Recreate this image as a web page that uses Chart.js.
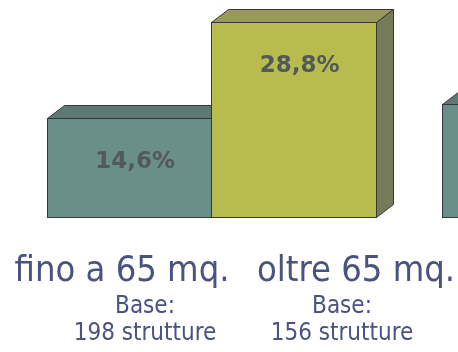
<!DOCTYPE html>
<html>
<head>
<meta charset="utf-8">
<script src="https://cdn.jsdelivr.net/npm/chart.js@4"></script>
<style>
  html, body { margin: 0; padding: 0; background: #fff; overflow: hidden; }
  #wrap { position: relative; width: 458px; height: 352px; overflow: hidden; }
  #chart { position: absolute; left: 0; top: 0; }
</style>
</head>
<body>
<div id="wrap">
  <canvas id="chart" width="820" height="352"></canvas>
</div>
<script>
// dati
const gruppi = ["gruppo 1", "gruppo 2"];
const serie = ["fino a 65 mq.", "oltre 65 mq."];
const basi = ["198 strutture", "156 strutture"];
const finoA65 = [14.6, 16.6];
const oltre65 = [28.8, null];

// colori: fronte, tetto, fianco
const coloriFronte = ["#6a8e8a", "#b8bb4d"];
const coloriTetto = ["#5e7874", "#979a5b"];
const coloriFianco = ["#56706c", "#777a58"];

const DX = 17, DY = 13;

function fmt(v) {
  return v.toFixed(1).replace(".", ",") + "%";
}

// barre 3D disegnate a mano dalle posizioni degli elementi
const barre3d = {
  id: "barre3d",
  beforeDatasetsDraw(chart) {
    const ctx = chart.ctx;
    ctx.save();
    ctx.lineWidth = 1;
    ctx.strokeStyle = "#363838";
    ctx.lineJoin = "miter";
    for (let i = 0; i < gruppi.length; i++) {
      chart.data.datasets.forEach((ds, j) => {
        const el = chart.getDatasetMeta(j).data[i];
        if (!el || ds.data[i] == null) return;
        const { x, y, base, width } = el.getProps(["x", "y", "base", "width"], true);
        const l = Math.round(x - width / 2) + 0.5;
        const r = Math.round(x + width / 2) + 0.5;
        const t = Math.round(y) + 0.5;
        const b = Math.round(base) + 0.5;
        // tetto
        ctx.beginPath();
        ctx.moveTo(l, t);
        ctx.lineTo(l + DX, t - DY);
        ctx.lineTo(r + DX, t - DY);
        ctx.lineTo(r, t);
        ctx.closePath();
        ctx.fillStyle = coloriTetto[j];
        ctx.fill();
        ctx.stroke();
        // fianco
        ctx.beginPath();
        ctx.moveTo(r, t);
        ctx.lineTo(r + DX, t - DY);
        ctx.lineTo(r + DX, b - DY);
        ctx.lineTo(r, b);
        ctx.closePath();
        ctx.fillStyle = coloriFianco[j];
        ctx.fill();
        ctx.stroke();
        // fronte
        ctx.fillStyle = coloriFronte[j];
        ctx.fillRect(l, t, r - l, b - t);
        ctx.strokeRect(l, t, r - l, b - t);
      });
    }
    // etichette valore
    ctx.font = "bold 23px 'DejaVu Sans'";
    ctx.fillStyle = "#53585a";
    ctx.textAlign = "center";
    ctx.textBaseline = "middle";
    for (let i = 0; i < gruppi.length; i++) {
      chart.data.datasets.forEach((ds, j) => {
        const el = chart.getDatasetMeta(j).data[i];
        if (!el || ds.data[i] == null) return;
        ctx.fillText(fmt(ds.data[i]), el.x + 6, el.y + 44);
      });
    }
    ctx.restore();
    return false;
  },
  afterDraw(chart) {
    const ctx = chart.ctx;
    const titoloX = [122, 356];
    const baseX = [145, 342];
    ctx.save();
    ctx.fillStyle = "#4a5282";
    ctx.textAlign = "center";
    ctx.textBaseline = "alphabetic";
    serie.forEach((s, j) => {
      ctx.font = "36px 'DejaVu Sans Condensed'";
      ctx.fillText(s, titoloX[j], 281);
      ctx.font = "24px 'DejaVu Sans Condensed'";
      ctx.fillText("Base:", baseX[j], 313);
      ctx.fillText(basi[j], baseX[j], 340);
    });
    ctx.restore();
  }
};

const ctx = document.getElementById("chart").getContext("2d");
const grafico = new Chart(ctx, {
  type: "bar",
  data: {
    labels: gruppi,
    datasets: [
      { label: serie[0], data: finoA65, backgroundColor: coloriFronte[0] },
      { label: serie[1], data: oltre65, backgroundColor: coloriFronte[1] },
    ],
  },
  options: {
    responsive: false,
    animation: false,
    events: [],
    layout: { padding: { left: 14, right: 16, top: 0, bottom: 135 } },
    datasets: { bar: { barPercentage: 1, categoryPercentage: 0.833 } },
    scales: {
      x: { display: false },
      y: { display: false, min: 0, max: 32 },
    },
    plugins: {
      legend: { display: false },
      tooltip: { enabled: false },
    },
  },
  plugins: [barre3d],
});
</script>
</body>
</html>
